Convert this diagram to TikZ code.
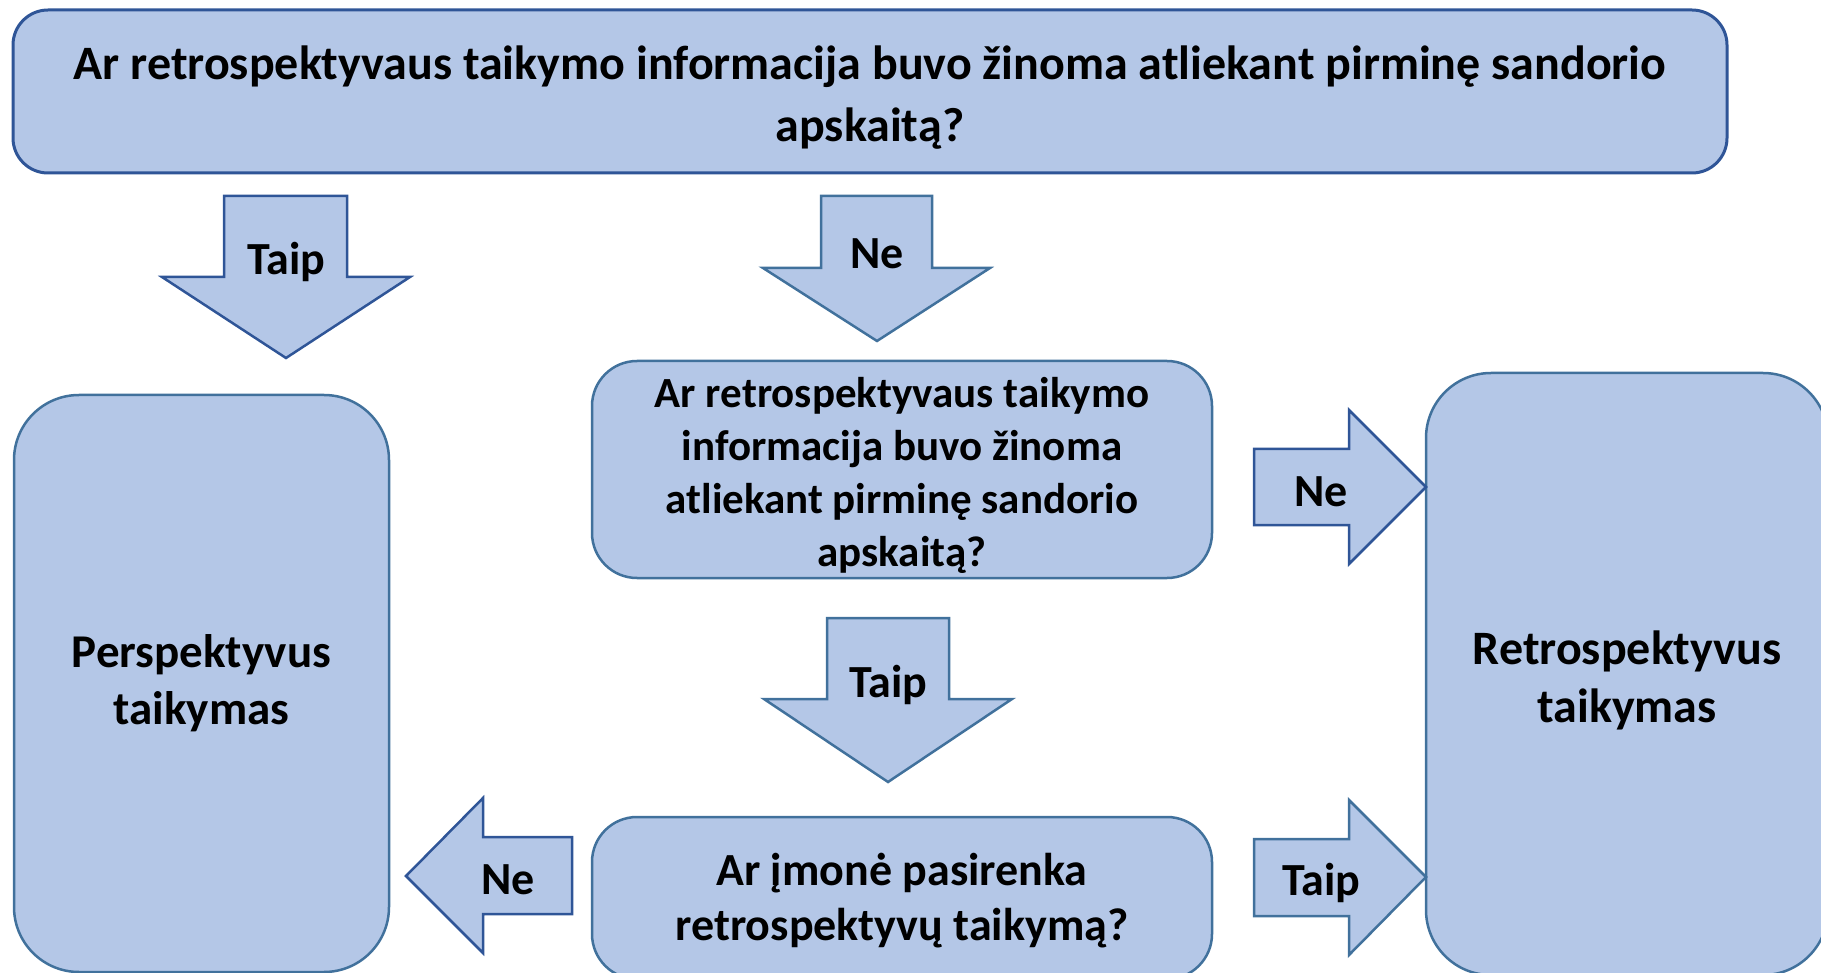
\documentclass[tikz,border=0pt]{standalone}
\usepackage{fontspec}
\setmainfont{Carlito}
\definecolor{fillblue}{HTML}{B4C7E7}
\definecolor{edgedark}{HTML}{2F5597}
\definecolor{edgemid}{HTML}{41719C}
\begin{document}
\begin{tikzpicture}[x=1pt,y=-1pt,
  box/.style={draw=edgemid, fill=fillblue, line width=2.5pt, inner sep=0pt},
  txt/.style={align=center, inner sep=0pt},
  blockarrow/.style={draw=edgemid, fill=fillblue, line width=2.5pt, line join=miter},
  lbl/.style={font=\fontsize{46}{52}\selectfont\bfseries, inner sep=0pt, anchor=base}]
\useasboundingbox (0,0) rectangle (1821,973);
% boxes
\node[box, draw=edgedark, line width=3pt, rounded corners=35pt, minimum width=1714pt, minimum height=163pt] (q1) at (870,91.5) {};
\node[txt, font=\fontsize{48}{62}\selectfont\bfseries] (q1t) at (870,97.5)
  {Ar retrospektyvaus taikymo informacija buvo žinoma atliekant pirminę sandorio\\apskaitą?};
\node[box, rounded corners=65pt, minimum width=375pt, minimum height=577pt] (persp) at (201.5,683.5) {};
\node[txt, font=\fontsize{47}{57}\selectfont\bfseries] (perspt) at (201.5,683)
  {Perspektyvus\\taikymas};
\node[box, rounded corners=65pt, minimum width=402pt, minimum height=602pt] (retro) at (1627,674) {};
\node[txt, font=\fontsize{48}{58}\selectfont\bfseries] (retrot) at (1627,680)
  {Retrospektyvus\\taikymas};
\node[box, rounded corners=45pt, minimum width=620pt, minimum height=217pt] (q2) at (902,469.5) {};
\node[txt, font=\fontsize{43}{53}\selectfont\bfseries] (q2t) at (902,475)
  {Ar retrospektyvaus taikymo\\informacija buvo žinoma\\atliekant pirminę sandorio\\apskaitą?};
\node[box, rounded corners=45pt, minimum width=620pt, minimum height=162pt] (q3) at (902,898) {};
\node[txt, font=\fontsize{46}{55}\selectfont\bfseries] (q3t) at (902,900.5)
  {Ar įmonė pasirenka\\retrospektyvų taikymą?};
% block arrows
\draw[blockarrow, draw=edgedark] (224,196) -- (347,196) -- (347,277) -- (410,277) -- (286,358) -- (162,277) -- (224,277) -- cycle;
\node[lbl] (a1) at (286,275) {Taip};
\draw[blockarrow] (821,196) -- (932,196) -- (932,268) -- (990,268) -- (877,341) -- (763,268) -- (821,268) -- cycle;
\node[lbl] (a2) at (877,269) {Ne};
\draw[blockarrow] (827,618) -- (949,618) -- (949,699) -- (1012,699) -- (888,782) -- (764,699) -- (827,699) -- cycle;
\node[lbl] (a3) at (888,697) {Taip};
\draw[blockarrow, draw=edgedark] (1254,449) -- (1349,449) -- (1349,410) -- (1426,487) -- (1349,564) -- (1349,525) -- (1254,525) -- cycle;
\node[lbl] (a4) at (1321,506) {Ne};
\draw[blockarrow] (1254,839) -- (1349,839) -- (1349,800) -- (1426,877) -- (1349,955) -- (1349,916) -- (1254,916) -- cycle;
\node[lbl] (a5) at (1321,895) {Taip};
\draw[blockarrow, draw=edgedark] (572,837) -- (483,837) -- (483,798) -- (406,876) -- (483,953) -- (483,914) -- (572,914) -- cycle;
\node[lbl] (a6) at (508,894) {Ne};
\end{tikzpicture}
\end{document}
